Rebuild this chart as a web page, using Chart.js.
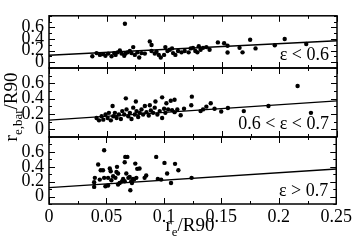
<!DOCTYPE html>
<html>
<head>
<meta charset="UTF-8">
<script src="https://cdn.jsdelivr.net/npm/chart.js"></script>
<style>
  html, body { margin: 0; padding: 0; background: #fff; }
  #wrap { position: relative; width: 354px; height: 246px; }
  #wrap canvas { position: absolute; left: 0; top: 0; }
</style>
</head>
<body>
<div id="wrap">
  <canvas id="c1" width="354" height="246"></canvas>
  <canvas id="c2" width="354" height="246"></canvas>
  <canvas id="c3" width="354" height="246"></canvas>
</div>
<script>
// axis ticks
const xTicks = [0, 0.05, 0.1, 0.15, 0.2, 0.25];
const xTickLabels = ['0', '0.05', '0.1', '0.15', '0.2', '0.25'];
const xMinor = [0, 0.025, 0.05, 0.075, 0.1, 0.125, 0.15, 0.175, 0.2, 0.225, 0.25];
const yTicks = [0, 0.2, 0.4, 0.6];
const yTickLabels = ['0', '0.2', '0.4', '0.6'];
const yMinor = [-0.1, 0, 0.1, 0.2, 0.3, 0.4, 0.5, 0.6, 0.7, 0.8];

// fitted relation, same in every panel
const fitX = [0, 0.25];
const fitY = [0.12, 0.37];

const panelLabels = ['ε < 0.6', '0.6 < ε < 0.7', 'ε > 0.7'];

// eps < 0.6
const p1X = [0.0659, 0.0875, 0.089, 0.1466, 0.152, 0.155, 0.1746, 0.1654, 0.168, 0.155, 0.1793, 0.196, 0.2046, 0.2233,
  0.0376, 0.0413, 0.0442, 0.047, 0.049, 0.0514, 0.0543, 0.0566, 0.0578, 0.0595, 0.0615, 0.063, 0.0653, 0.0664, 0.0682,
  0.0702, 0.0716, 0.0731, 0.0745, 0.0768, 0.0783, 0.0803, 0.0832, 0.089, 0.0918, 0.0933, 0.0953, 0.097, 0.0999, 0.101,
  0.1028, 0.1048, 0.1068, 0.1077, 0.1097, 0.112, 0.115, 0.1178, 0.1212, 0.123, 0.125, 0.127, 0.1288, 0.13, 0.1316,
  0.1337, 0.1366, 0.1394];
const p1Y = [0.664, 0.359, 0.296, 0.341, 0.327, 0.283, 0.386, 0.247, 0.170, 0.166, 0.238, 0.291, 0.399, 0.314,
  0.103, 0.157, 0.126, 0.139, 0.112, 0.148, 0.103, 0.157, 0.126, 0.170, 0.202, 0.148, 0.112, 0.148, 0.170,
  0.193, 0.157, 0.260, 0.126, 0.170, 0.081, 0.157, 0.148, 0.193, 0.148, 0.179, 0.126, 0.081, 0.126, 0.260,
  0.193, 0.215, 0.238, 0.157, 0.126, 0.193, 0.170, 0.193, 0.170, 0.238, 0.247, 0.193, 0.170, 0.274, 0.215,
  0.247, 0.260, 0.215];

// 0.6 < eps < 0.7
const p2X = [0.2158, 0.124, 0.0667, 0.0754, 0.0924, 0.0982, 0.1057, 0.109, 0.1019, 0.0552, 0.0875,
  0.1316, 0.1337, 0.1366, 0.1404, 0.1437, 0.1495, 0.1553, 0.1691, 0.1905, 0.2274, 0.1143, 0.1172, 0.1235,
  0.0413, 0.0434, 0.0457, 0.0471, 0.0491, 0.0509, 0.052, 0.0537, 0.0558, 0.0572, 0.0587, 0.0607, 0.0624,
  0.0636, 0.0653, 0.0673, 0.0688, 0.0702, 0.0716, 0.0731, 0.0745, 0.076, 0.0774, 0.0788, 0.0803, 0.0817,
  0.0832, 0.0846, 0.0866, 0.0884, 0.0904, 0.0918, 0.0941, 0.0961, 0.0982, 0.0999, 0.101, 0.1034, 0.1068,
  0.109, 0.1114];
const p2Y = [0.565, 0.426, 0.404, 0.363, 0.363, 0.417, 0.372, 0.386, 0.341, 0.305, 0.314,
  0.238, 0.260, 0.296, 0.341, 0.269, 0.233, 0.278, 0.238, 0.305, 0.215, 0.184, 0.269, 0.314,
  0.148, 0.117, 0.170, 0.126, 0.193, 0.148, 0.215, 0.117, 0.170, 0.215, 0.148, 0.193, 0.135,
  0.238, 0.193, 0.260, 0.170, 0.215, 0.135, 0.283, 0.193, 0.238, 0.161, 0.215, 0.260, 0.193,
  0.305, 0.224, 0.179, 0.247, 0.215, 0.283, 0.193, 0.238, 0.148, 0.269, 0.215, 0.260, 0.251,
  0.224, 0.260];

// eps > 0.7
const p3X = [0.048, 0.0428, 0.045, 0.047, 0.0399, 0.0393, 0.0393, 0.0442, 0.048, 0.0491, 0.0514, 0.0529,
  0.0537, 0.0514, 0.0543, 0.0558, 0.0578, 0.0592, 0.0587, 0.0601, 0.0615, 0.0636, 0.0659, 0.0664, 0.0682,
  0.0659, 0.0673, 0.0691, 0.0702, 0.0716, 0.0731, 0.074, 0.0722, 0.0708, 0.0751, 0.0768, 0.0788, 0.076,
  0.0832, 0.0846, 0.0933, 0.0947, 0.0976, 0.1005, 0.1028, 0.1062, 0.1097, 0.1126, 0.1241, 0.0601, 0.0645];
const p3Y = [0.623, 0.430, 0.354, 0.354, 0.251, 0.192, 0.130, 0.228, 0.251, 0.139, 0.251, 0.376,
  0.340, 0.148, 0.219, 0.273, 0.251, 0.399, 0.331, 0.309, 0.183, 0.206, 0.206, 0.533, 0.533,
  0.461, 0.309, 0.251, 0.264, 0.206, 0.237, 0.228, 0.183, 0.085, 0.443, 0.372, 0.376, 0.251,
  0.251, 0.282, 0.533, 0.237, 0.228, 0.452, 0.309, 0.183, 0.439, 0.354, 0.251, 0.161, 0.237];

const FONT = '"Liberation Serif", "DejaVu Serif", serif';

function drawSubText(ctx, parts, x, y, align) {
  // parts: [text, size, shift]
  let total = 0;
  parts.forEach(p => { ctx.font = p[1] + 'px ' + FONT; total += ctx.measureText(p[0]).width; });
  let cx = align === 'center' ? x - total / 2 : x;
  ctx.textAlign = 'left';
  ctx.textBaseline = 'alphabetic';
  parts.forEach(p => {
    ctx.font = p[1] + 'px ' + FONT;
    ctx.fillText(p[0], cx, y + p[2]);
    cx += ctx.measureText(p[0]).width;
  });
}

const framePlugin = {
  id: 'frame',
  afterDraw(chart, args, opts) {
    const { ctx, chartArea: a, scales: { x, y } } = chart;
    ctx.save();
    ctx.strokeStyle = '#000';
    ctx.fillStyle = '#000';
    ctx.lineWidth = 1;
    ctx.beginPath();
    xMinor.forEach((v, i) => {
      const px = Math.round(x.getPixelForValue(v)) + 0.5;
      const len = i % 2 === 0 ? 6 : 3;
      ctx.moveTo(px, a.bottom); ctx.lineTo(px, a.bottom - len);
      ctx.moveTo(px, a.top); ctx.lineTo(px, a.top + len);
    });
    yMinor.forEach(v => {
      const py = Math.round(y.getPixelForValue(v)) + 0.5;
      const len = yTicks.includes(v) ? 6 : 3;
      ctx.moveTo(a.left, py); ctx.lineTo(a.left + len, py);
      ctx.moveTo(a.right, py); ctx.lineTo(a.right - len, py);
    });
    ctx.stroke();
    ctx.lineWidth = 1.5;
    ctx.strokeRect(a.left, a.top, a.right - a.left, a.bottom - a.top);

    ctx.font = '18px ' + FONT;
    ctx.textAlign = 'right';
    ctx.textBaseline = 'alphabetic';
    ctx.fillText(opts.label, a.right - 8, a.bottom - 8);

    if (opts.yTitle) {
      ctx.save();
      ctx.translate(17, 107);
      ctx.rotate(-Math.PI / 2);
      drawSubText(ctx, [['r', 19, 0], ['e,bar', 13, 5], ['/R90', 19, 0]], 0, 0, 'center');
      ctx.restore();
    }
    if (opts.xTitle) {
      drawSubText(ctx, [['r', 19, 0], ['e', 13, 5], ['/R90', 19, 0]], 190, 231, 'center');
    }
    ctx.restore();
  }
};

function makePanel(id, xs, ys, label, top, bottom, showX, yTitle) {
  const pts = xs.map((v, i) => ({ x: v, y: ys[i] }));
  const fit = fitX.map((v, i) => ({ x: v, y: fitY[i] }));
  new Chart(document.getElementById(id), {
    type: 'scatter',
    data: {
      datasets: [
        { data: pts, pointRadius: 2.2, pointBackgroundColor: '#000', pointBorderWidth: 0, borderWidth: 0 },
        { type: 'line', data: fit, borderColor: '#000', borderWidth: 1.3, pointRadius: 0, fill: false, showLine: true }
      ]
    },
    options: {
      responsive: false,
      animation: false,
      events: [],
      layout: { padding: { left: 0, right: 17, top: top, bottom: bottom } },
      plugins: {
        legend: { display: false },
        tooltip: { enabled: false },
        frame: { label: label, yTitle: yTitle, xTitle: showX }
      },
      scales: {
        x: {
          type: 'linear', min: 0, max: 0.25, display: showX,
          grid: { display: false, drawTicks: false },
          border: { display: false },
          afterBuildTicks: s => { s.ticks = xTicks.map(v => ({ value: v })); },
          afterFit: s => { s.height = showX ? 42 : 0; },
          ticks: {
            autoSkip: false, maxRotation: 0, padding: 2, color: '#000',
            font: { family: FONT, size: 18 },
            callback: (v, i) => xTickLabels[i]
          }
        },
        y: {
          type: 'linear', min: -0.1, max: 0.8,
          grid: { display: false, drawTicks: false },
          border: { display: false },
          afterBuildTicks: s => { s.ticks = yTicks.map(v => ({ value: v })); },
          afterFit: s => { s.width = 49; },
          ticks: {
            autoSkip: false, padding: 5, color: '#000',
            font: { family: FONT, size: 18 },
            callback: (v, i) => yTickLabels[i]
          }
        }
      }
    },
    plugins: [framePlugin]
  });
}

makePanel('c1', p1X, p1Y, panelLabels[0], 1, 178, false, false);
makePanel('c2', p2X, p2Y, panelLabels[1], 68, 109, false, true);
makePanel('c3', p3X, p3Y, panelLabels[2], 137, 0, true, false);
</script>
</body>
</html>
